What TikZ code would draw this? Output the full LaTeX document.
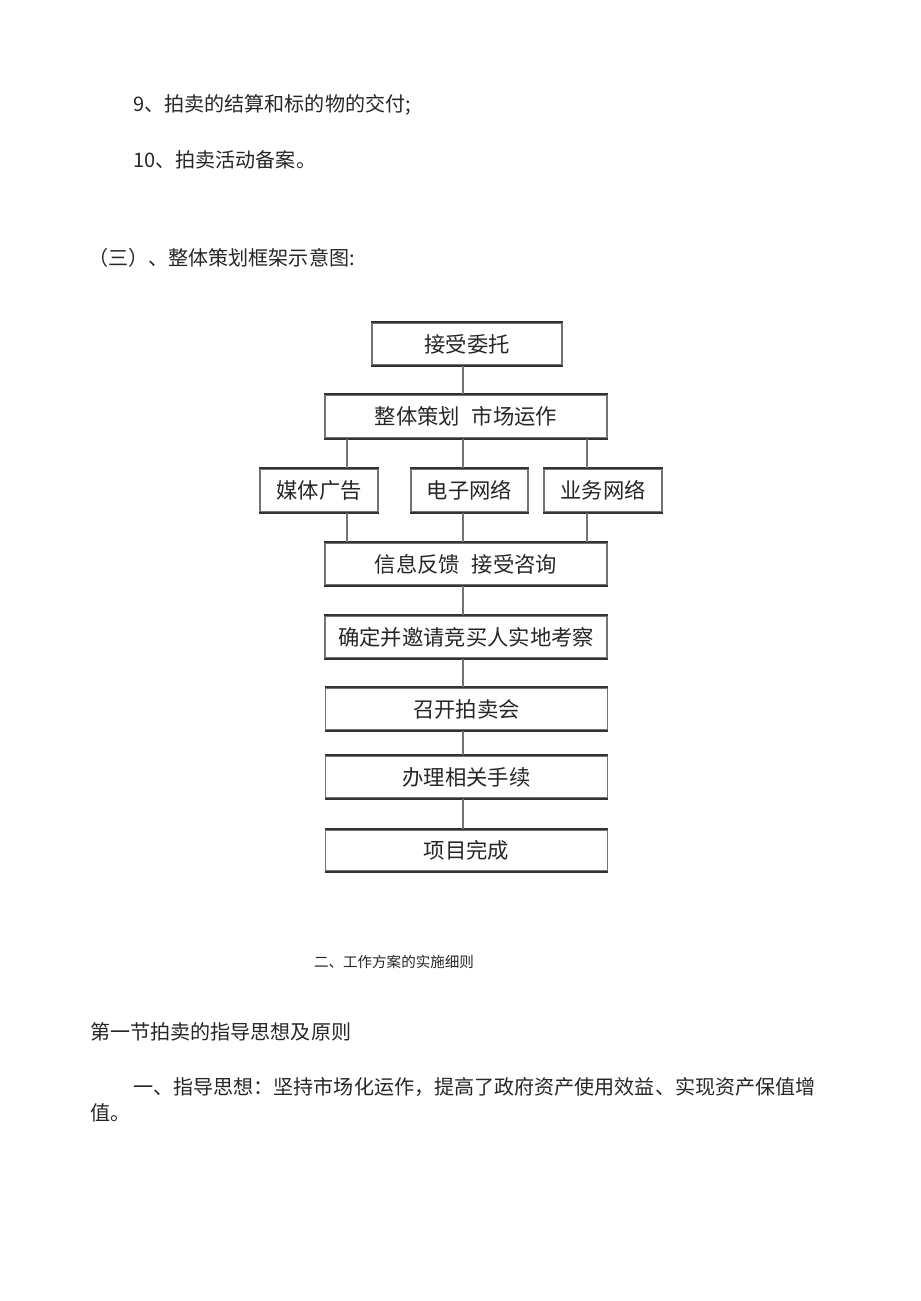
\documentclass[tikz,border=0pt]{standalone}
\usepackage{fontspec}
\setmainfont{Noto Sans CJK SC}
\begin{document}
\begin{tikzpicture}[x=0.75pt,y=-0.75pt,
  txt/.style={inner sep=0pt, text=black!85, font=\fontsize{15.05pt}{16pt}\selectfont},
  box/.style={draw=black!55, line width=0.8pt, inner sep=0pt, text=black!85,
    font=\fontsize{16pt}{17pt}\selectfont},
  conn/.style={draw=black!55, line width=1pt}]
\useasboundingbox (0,0) rectangle (920,1301);
% body text
\node[txt, anchor=west] (l9) at (133,105) {9、拍卖的结算和标的物的交付;};
\node[txt, anchor=west] (l10) at (133,160) {10、拍卖活动备案。};
\node[txt, anchor=west] (l3) at (88,258) {（三）、整体策划框架示意图:};
% flowchart
\node[box, minimum width=142.5pt, minimum height=31.5pt] (A) at (467,344) {接受委托};
\node[box, minimum width=211.5pt, minimum height=32.25pt] (B) at (466,416.5) {整体策划\hspace{0.55em}市场运作};
\node[box, minimum width=88.5pt, minimum height=32.25pt] (C1) at (319,490.5) {媒体广告};
\node[box, minimum width=87.75pt, minimum height=32.25pt] (C2) at (469.5,490.5) {电子网络};
\node[box, minimum width=88.5pt, minimum height=32.25pt] (C3) at (603,490.5) {业务网络};
\node[box, minimum width=211.5pt, minimum height=31.5pt] (D) at (466,564) {信息反馈\hspace{0.55em}接受咨询};
\node[box, minimum width=211.5pt, minimum height=31.5pt] (E) at (466,637) {确定并邀请竞买人实地考察};
\node[box, minimum width=211.5pt, minimum height=31.5pt] (F) at (466.5,709) {召开拍卖会};
\node[box, minimum width=211.5pt, minimum height=31.5pt] (G) at (466.5,777) {办理相关手续};
\node[box, minimum width=211.5pt, minimum height=30.75pt] (H) at (466.5,850.5) {项目完成};
\foreach \n in {A,B,C1,C2,C3,D,E,F,G,H}{
  \draw[line width=1.5pt, black!80] (\n.north west) -- (\n.north east);
  \draw[line width=1.5pt, black!80] (\n.south west) -- (\n.south east);
}
\coordinate (sp) at (463,0);
\coordinate (bl) at (347,0);
\coordinate (br) at (587,0);
\draw[conn] (A.south -| sp) -- (B.north -| sp);
\draw[conn] (B.south -| bl) -- (C1.north -| bl);
\draw[conn] (B.south -| sp) -- (C2.north -| sp);
\draw[conn] (B.south -| br) -- (C3.north -| br);
\draw[conn] (C1.south -| bl) -- (D.north -| bl);
\draw[conn] (C2.south -| sp) -- (D.north -| sp);
\draw[conn] (C3.south -| br) -- (D.north -| br);
\draw[conn] (D.south -| sp) -- (E.north -| sp);
\draw[conn] (E.south -| sp) -- (F.north -| sp);
\draw[conn] (F.south -| sp) -- (G.north -| sp);
\draw[conn] (G.south -| sp) -- (H.north -| sp);
% lower text
\node[txt, font=\fontsize{10.9pt}{12pt}\selectfont] (cap) at (394,962) {二、工作方案的实施细则};
\node[txt, anchor=west] (sec) at (90,1032) {第一节拍卖的指导思想及原则};
\node[txt, anchor=west] (p1) at (133,1087) {一、指导思想：坚持市场化运作，提高了政府资产使用效益、实现资产保值增};
\node[txt, anchor=west] (p2) at (90,1113) {值。};
\end{tikzpicture}
\end{document}
